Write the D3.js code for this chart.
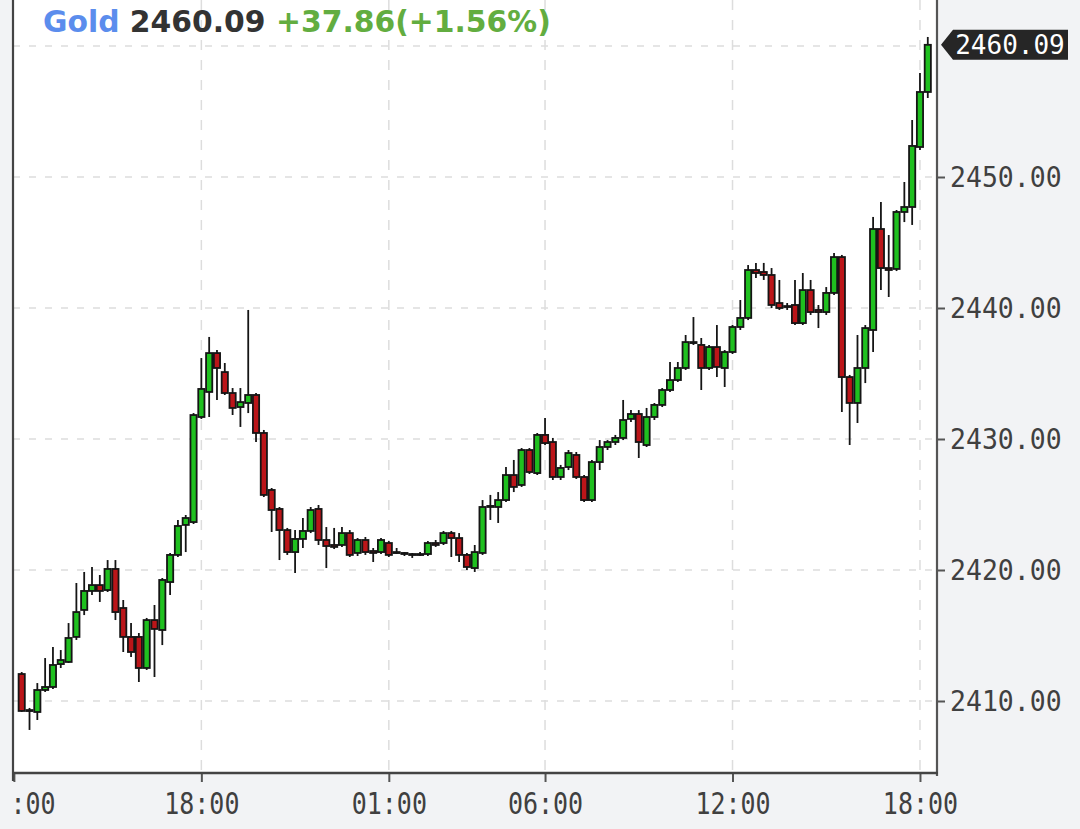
<!DOCTYPE html>
<html>
<head>
<meta charset="utf-8">
<script src="https://cdn.jsdelivr.net/npm/d3@7"></script>
<style>
  html, body { margin: 0; padding: 0; background: #f2f3f5; }
  svg { display: block; }
</style>
</head>
<body>
<svg id="chart" width="1080" height="829"></svg>
<script>
// ---- DATA (15-minute candles) ----
const openPrices = [
  2412.06, 2409.31, 2409.16, 2410.84, 2411.07, 2412.82, 2412.98, 2414.89, 2416.95, 2418.40,
  2418.85, 2418.47, 2420.08, 2417.10, 2414.89, 2414.89, 2412.52, 2416.18, 2415.42, 2419.08,
  2421.15, 2423.44, 2423.66, 2431.68, 2433.59, 2436.56, 2435.11, 2433.51, 2432.44, 2432.75,
  2433.36, 2430.46, 2426.11, 2424.66, 2423.05, 2421.37, 2422.37, 2422.98, 2424.66, 2422.29,
  2421.91, 2421.91, 2422.82, 2421.30, 2422.29, 2421.45, 2421.37, 2422.06, 2421.37, 2421.30,
  2421.22, 2421.15, 2421.22, 2422.06, 2422.06, 2422.82, 2422.44, 2421.15, 2420.15, 2421.30,
  2424.81, 2424.81, 2425.34, 2427.25, 2426.49, 2429.16, 2427.40, 2430.31, 2429.77, 2427.10,
  2427.86, 2428.78, 2427.10, 2425.34, 2428.24, 2429.39, 2429.77, 2430.08, 2431.53, 2431.91,
  2429.54, 2431.68, 2432.60, 2433.74, 2434.50, 2435.42, 2437.40, 2437.18, 2435.42, 2437.02,
  2435.42, 2436.64, 2438.55, 2439.24, 2442.90, 2442.75, 2442.52, 2440.38, 2440.15, 2440.23,
  2438.85, 2441.37, 2439.85, 2439.69, 2441.15, 2443.89, 2434.73, 2432.75, 2435.42, 2438.32,
  2446.03, 2443.05, 2442.98, 2447.33, 2447.71, 2452.29, 2456.49
];
const highPrices = [
  2412.21, 2409.47, 2411.37, 2413.28, 2414.12, 2413.89, 2415.95, 2419.01, 2419.85, 2420.23,
  2419.62, 2420.76, 2420.76, 2417.71, 2415.95, 2415.19, 2416.34, 2417.33, 2419.39, 2421.30,
  2423.82, 2424.20, 2431.98, 2436.18, 2437.79, 2436.79, 2435.80, 2433.89, 2433.89, 2439.85,
  2433.51, 2430.69, 2426.26, 2424.81, 2423.21, 2423.05, 2423.97, 2424.81, 2424.96, 2423.28,
  2423.21, 2423.28, 2423.05, 2422.44, 2422.52, 2421.68, 2422.44, 2422.21, 2421.68, 2421.37,
  2421.30, 2421.37, 2422.21, 2422.29, 2422.98, 2422.98, 2422.82, 2421.30, 2421.91, 2425.34,
  2425.73, 2425.95, 2427.86, 2428.40, 2429.31, 2429.31, 2430.46, 2431.60, 2430.08, 2428.02,
  2429.16, 2429.01, 2427.25, 2428.40, 2429.92, 2429.92, 2430.31, 2432.98, 2432.21, 2432.21,
  2432.37, 2432.75, 2433.89, 2435.88, 2435.88, 2437.94, 2439.31, 2437.71, 2437.18, 2438.70,
  2436.79, 2438.70, 2440.61, 2443.28, 2443.44, 2443.44, 2443.05, 2442.14, 2440.38, 2442.14,
  2442.67, 2442.14, 2440.23, 2441.60, 2444.20, 2444.05, 2434.89, 2437.94, 2438.70, 2446.95,
  2448.09, 2445.57, 2447.48, 2449.62, 2454.35, 2457.94, 2460.69
];
const lowPrices = [
  2409.16, 2407.79, 2408.55, 2410.69, 2410.92, 2412.52, 2412.90, 2414.66, 2416.56, 2418.09,
  2417.56, 2418.32, 2416.18, 2413.74, 2413.36, 2411.45, 2412.37, 2411.83, 2414.27, 2418.09,
  2420.99, 2421.37, 2423.51, 2431.53, 2431.68, 2432.98, 2433.36, 2431.83, 2430.92, 2431.98,
  2429.77, 2425.57, 2422.90, 2420.76, 2421.15, 2419.77, 2421.68, 2422.82, 2421.91, 2420.15,
  2421.60, 2421.76, 2420.99, 2421.07, 2421.15, 2420.61, 2421.22, 2420.99, 2421.22, 2421.07,
  2420.92, 2421.07, 2421.07, 2421.76, 2421.91, 2420.99, 2420.61, 2420.00, 2419.85, 2421.15,
  2423.82, 2423.59, 2425.19, 2425.95, 2426.34, 2427.33, 2427.25, 2429.54, 2426.87, 2426.87,
  2427.63, 2426.95, 2425.19, 2425.19, 2427.63, 2429.16, 2429.54, 2429.92, 2431.30, 2428.55,
  2429.39, 2431.45, 2432.44, 2433.59, 2434.35, 2435.27, 2437.18, 2433.74, 2435.27, 2434.73,
  2433.97, 2436.49, 2438.32, 2439.08, 2442.29, 2442.14, 2440.00, 2439.85, 2439.85, 2438.70,
  2438.70, 2439.47, 2438.47, 2439.47, 2440.99, 2432.06, 2429.54, 2431.22, 2434.27, 2436.64,
  2441.37, 2440.84, 2442.82, 2446.56, 2446.34, 2452.06, 2456.03
];
const closePrices = [
  2409.24, 2409.24, 2410.84, 2411.07, 2412.75, 2413.13, 2414.81, 2416.79, 2418.40, 2418.85,
  2418.40, 2420.08, 2416.79, 2414.89, 2413.74, 2412.52, 2416.18, 2415.50, 2419.24, 2421.15,
  2423.36, 2423.97, 2431.83, 2433.82, 2436.56, 2435.42, 2433.51, 2432.37, 2432.82, 2433.36,
  2430.46, 2425.73, 2424.58, 2423.05, 2421.37, 2422.37, 2422.98, 2424.58, 2422.29, 2421.83,
  2421.76, 2422.82, 2421.15, 2422.29, 2421.37, 2421.30, 2422.29, 2421.15, 2421.30, 2421.22,
  2421.15, 2421.22, 2422.06, 2421.91, 2422.82, 2422.44, 2421.15, 2420.23, 2421.37, 2424.81,
  2424.89, 2425.34, 2427.25, 2426.34, 2429.16, 2427.48, 2430.31, 2429.69, 2427.10, 2427.79,
  2428.93, 2427.10, 2425.34, 2428.24, 2429.39, 2429.77, 2430.08, 2431.45, 2431.91, 2429.77,
  2431.68, 2432.60, 2433.74, 2434.50, 2435.42, 2437.40, 2437.33, 2435.42, 2437.02, 2435.50,
  2436.64, 2438.55, 2439.24, 2442.90, 2442.67, 2442.52, 2440.23, 2440.00, 2440.08, 2438.85,
  2441.37, 2439.69, 2439.69, 2441.15, 2443.89, 2434.73, 2432.75, 2435.42, 2438.47, 2446.03,
  2443.05, 2442.90, 2447.33, 2447.71, 2452.37, 2456.49, 2460.09
];
const xTickIndex  = [-1, 23, 47, 67, 91, 115];
const xTickLabels = [":00", "18:00", "01:00", "06:00", "12:00", "18:00"];
const yTickValues = [2410, 2420, 2430, 2440, 2450];
const yGridValues = [2410, 2420, 2430, 2440, 2450, 2460];
const titleName = "Gold";
const lastPrice = 2460.09;
const changeText = "+37.86(+1.56%)";

// ---- LAYOUT ----
const W = 1080, H = 829;
const plotL = 13, plotR = 937, plotT = 0, plotB = 773;
const svg = d3.select("#chart");

const candles = openPrices.map((o, i) => ({
  i, o, h: highPrices[i], l: lowPrices[i], c: closePrices[i]
}));

const x = d3.scaleLinear().domain([-1.114, 117.18]).range([plotL, plotR]);
const y = d3.scaleLinear().domain([2410, 2460]).range([701, 46]);

svg.append("rect").attr("width", W).attr("height", H).attr("fill", "#f2f3f5");
svg.append("rect").attr("x", plotL).attr("y", plotT)
  .attr("width", plotR - plotL).attr("height", plotB - plotT).attr("fill", "#ffffff");

// grid
const grid = svg.append("g");
grid.selectAll("line.h").data(yGridValues).join("line")
  .attr("x1", plotL).attr("x2", plotR)
  .attr("y1", d => y(d)).attr("y2", d => y(d))
  .attr("stroke", "#dddddd").attr("stroke-width", 1.5).attr("stroke-dasharray", "7,9");
grid.selectAll("line.v").data(xTickIndex.slice(1)).join("line")
  .attr("y1", plotT).attr("y2", plotB)
  .attr("x1", d => x(d)).attr("x2", d => x(d))
  .attr("stroke", "#dddddd").attr("stroke-width", 1.5).attr("stroke-dasharray", "10,10");

// title
const title = svg.append("text").attr("x", 43).attr("y", 32)
  .attr("font-family", "DejaVu Sans").attr("font-weight", "bold").attr("font-size", 29.8);
title.append("tspan").attr("fill", "#5b8ded").text(titleName);
title.append("tspan").attr("fill", "#333333").text(" " + d3.format(".2f")(lastPrice));
title.append("tspan").attr("fill", "#62ad40").text(" " + changeText);

// candles
const cg = svg.append("g");
cg.selectAll("line.wick").data(candles).join("line")
  .attr("x1", d => x(d.i)).attr("x2", d => x(d.i))
  .attr("y1", d => y(d.h)).attr("y2", d => y(d.l))
  .attr("stroke", "#151515").attr("stroke-width", 1.8);
const bw = 6.2;
cg.selectAll("rect.body").data(candles).join("rect")
  .attr("x", d => x(d.i) - bw / 2).attr("width", bw)
  .attr("y", d => y(Math.max(d.o, d.c)))
  .attr("height", d => Math.max(1, Math.abs(y(d.o) - y(d.c))))
  .attr("fill", d => d.c >= d.o ? "#1fc01f" : "#bb1519")
  .attr("stroke", "#151515").attr("stroke-width", 1.8);

// y axis (right)
const yAxis = d3.axisRight(y).tickValues(yTickValues).tickFormat(d3.format(".2f"))
  .tickSize(8).tickSizeOuter(0).tickPadding(5);
const yg = svg.append("g").attr("transform", `translate(${plotR},0)`).call(yAxis);
yg.select(".domain").remove();
yg.selectAll(".tick line").attr("stroke", "#555").attr("stroke-width", 2);
yg.selectAll(".tick text")
  .attr("font-family", "DejaVu Sans Mono").attr("font-size", 26.5).attr("fill", "#404040")
  .attr("dy", null).attr("dominant-baseline", "central")
  .attr("transform", "scale(1,1.1)");
svg.append("line").attr("x1", plotR).attr("x2", plotR).attr("y1", 0).attr("y2", plotB + 3)
  .attr("stroke", "#555").attr("stroke-width", 2.2);

// x axis (bottom)
const xAxis = d3.axisBottom(x).tickValues(xTickIndex).tickFormat((d, k) => xTickLabels[k])
  .tickSize(9).tickSizeOuter(0).tickPadding(9);
const xg = svg.append("g").attr("transform", `translate(0,${plotB})`).call(xAxis);
xg.select(".domain").remove();
xg.selectAll(".tick line").attr("stroke", "#555").attr("stroke-width", 2);
xg.selectAll(".tick text")
  .attr("font-family", "DejaVu Sans Mono").attr("font-size", 25).attr("fill", "#404040")
  .attr("y", 0).attr("dy", null).attr("dominant-baseline", "central")
  .attr("transform", "translate(0,31) scale(1,1.2)");
xg.selectAll(".tick text").filter((d, k) => k === 0)
  .attr("text-anchor", "start").attr("x", -4);
svg.append("line").attr("x1", plotL - 1).attr("x2", plotR + 1).attr("y1", plotB).attr("y2", plotB)
  .attr("stroke", "#444").attr("stroke-width", 2.4);
svg.append("line").attr("x1", plotL).attr("x2", plotL).attr("y1", 0).attr("y2", plotB + 8)
  .attr("stroke", "#444").attr("stroke-width", 2.2);

// last price tag
const ty = y(lastPrice);
svg.append("path")
  .attr("d", `M${plotR + 4},${ty} L${plotR + 16},${ty - 15} H1068 V${ty + 15} H${plotR + 16} Z`)
  .attr("fill", "#262626");
svg.append("text").attr("x", 1010).attr("y", ty)
  .attr("text-anchor", "middle").attr("dominant-baseline", "central")
  .attr("font-family", "DejaVu Sans Mono").attr("font-size", 26).attr("fill", "#ffffff")
  .text(d3.format(".2f")(lastPrice));
</script>
</body>
</html>
